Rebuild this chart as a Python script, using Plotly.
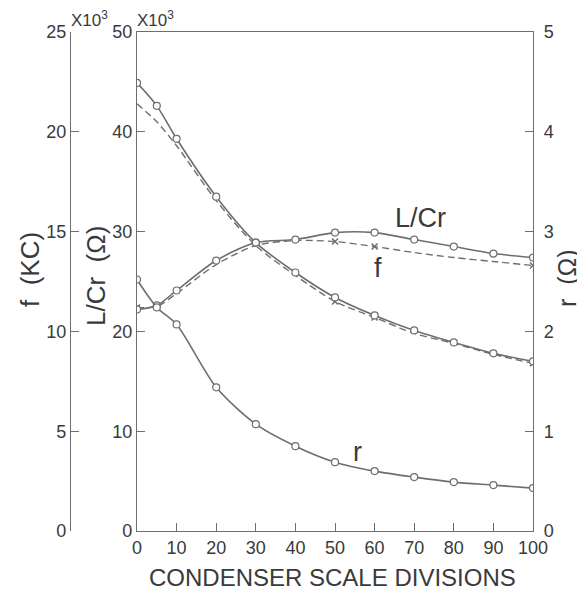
import plotly.graph_objects as go

# ---- data ----
divisions = [0, 5, 10, 20, 30, 40, 50, 60, 70, 80, 90, 100]

f_solid = [22.45, 21.3, 19.65, 16.75, 14.45, 12.95, 11.7, 10.8, 10.05, 9.45, 8.9, 8.5]       # kc
f_dashed = [21.4, 20.5, 19.3, 16.55, 14.3, 12.8, 11.5, 10.7, 9.9, 9.4, 8.85, 8.4]            # kc
f_dashed_marked = [50, 60, 100]

lcr_solid = [22.2, 22.6, 24.1, 27.1, 28.9, 29.2, 29.9, 29.9, 29.2, 28.5, 27.8, 27.4]         # x10^3 ohm
lcr_dashed = [22.4, 22.5, 23.8, 26.7, 28.6, 29.1, 29.0, 28.5, 27.9, 27.4, 27.0, 26.6]        # x10^3 ohm
lcr_dashed_marked = [0, 50, 60, 100]

r_solid = [2.52, 2.24, 2.07, 1.44, 1.07, 0.85, 0.69, 0.60, 0.54, 0.49, 0.46, 0.43]           # ohm

x_ticks = [0, 10, 20, 30, 40, 50, 60, 70, 80, 90, 100]

# ---- styling ----
FONT = "Liberation Sans, Arial, sans-serif"
INK = "#3a3a3a"
LINE = "#6e6e6e"
OFF = 8                      # page body margin in the browser
WIN_W, WIN_H = 585, 592
W, H = WIN_W - OFF, WIN_H - OFF
# plot-area edges in window pixels
AX_LEFT, AX_RIGHT, AX_TOP, AX_BOTTOM = 60, 533, 32, 531
ML, MT = AX_LEFT - OFF, AX_TOP - OFF
MR, MB = W - (AX_RIGHT - OFF), H - (AX_BOTTOM - OFF)
PW, PH = AX_RIGHT - AX_LEFT, AX_BOTTOM - AX_TOP


def px(xp):
    return (xp - AX_LEFT) / PW


def py(yp):
    return 1 - (yp - AX_TOP) / PH


fig = go.Figure()

circle = dict(symbol="circle", size=7, color="white", line=dict(width=1.2, color=LINE))
xmark = dict(symbol="x-thin-open", size=6, color=LINE, line=dict(width=1.5, color=LINE))
spl = dict(shape="spline", smoothing=0.8)

# f (left-most axis)
fig.add_trace(go.Scatter(x=divisions, y=f_dashed, yaxis="y2", mode="lines",
                         line=dict(color=LINE, width=1.4, dash="7px,4px", **spl)))
fig.add_trace(go.Scatter(x=f_dashed_marked,
                         y=[f_dashed[divisions.index(v)] for v in f_dashed_marked],
                         yaxis="y2", mode="markers", marker=xmark))
fig.add_trace(go.Scatter(x=divisions, y=f_solid, yaxis="y2", mode="lines+markers",
                         line=dict(color=LINE, width=1.6, **spl), marker=circle))

# L/Cr
fig.add_trace(go.Scatter(x=divisions, y=lcr_dashed, yaxis="y", mode="lines",
                         line=dict(color=LINE, width=1.4, dash="7px,4px", **spl)))
fig.add_trace(go.Scatter(x=lcr_dashed_marked,
                         y=[lcr_dashed[divisions.index(v)] for v in lcr_dashed_marked],
                         yaxis="y", mode="markers", marker=xmark))
fig.add_trace(go.Scatter(x=divisions, y=lcr_solid, yaxis="y", mode="lines+markers",
                         line=dict(color=LINE, width=1.6, **spl), marker=circle))

# r (right axis)
fig.add_trace(go.Scatter(x=divisions, y=r_solid, yaxis="y3", mode="lines+markers",
                         line=dict(color=LINE, width=1.6, **spl), marker=circle))

axis_common = dict(showgrid=False, zeroline=False, showline=True, linecolor=LINE, linewidth=1.3,
                   ticks="inside", ticklen=8, tickcolor=LINE, tickwidth=1,
                   tickfont=dict(family=FONT, size=18, color=INK))

fig.update_layout(
    width=W, height=H,
    margin=dict(l=ML, r=MR, t=MT, b=MB),
    paper_bgcolor="white", plot_bgcolor="white",
    showlegend=False,
    xaxis=dict(domain=[px(137), 1], range=[0, 100], tickvals=x_ticks, mirror=True, **axis_common),
    yaxis=dict(range=[0, 50], dtick=10, anchor="x", side="left", **axis_common),
    yaxis2=dict(range=[0, 25], dtick=5, overlaying="y", anchor="free", position=px(70), side="left",
                **axis_common),
    yaxis3=dict(range=[0, 5], dtick=1, overlaying="y", anchor="x", side="right",
                ticklabelstandoff=6, **axis_common),
)

ann = [
    dict(text="X10<sup>3</sup>", x=px(89), y=py(19)),
    dict(text="X10<sup>3</sup>", x=px(155), y=py(19)),
    dict(text="CONDENSER SCALE DIVISIONS", x=px(332), y=py(577), size=24),
    dict(text="f  (KC)", x=px(30), y=py(270), size=26, textangle=-90),
    dict(text="L/Cr  (Ω)", x=px(96), y=py(276), size=26, textangle=-90),
    dict(text="r  (Ω)", x=px(567), y=py(278), size=25, textangle=-90),
    dict(text="L/Cr", x=px(420), y=py(218), size=27),
    dict(text="f", x=px(378), y=py(268), size=27),
    dict(text="r", x=px(357), y=py(452), size=27),
]
for a in ann:
    fig.add_annotation(text=a["text"], x=a["x"], y=a["y"], xref="paper", yref="paper",
                       showarrow=False, textangle=a.get("textangle", 0),
                       font=dict(family=FONT, size=a.get("size", 17), color=INK),
                       xanchor="center", yanchor="middle")

fig.write_html("out.html")
